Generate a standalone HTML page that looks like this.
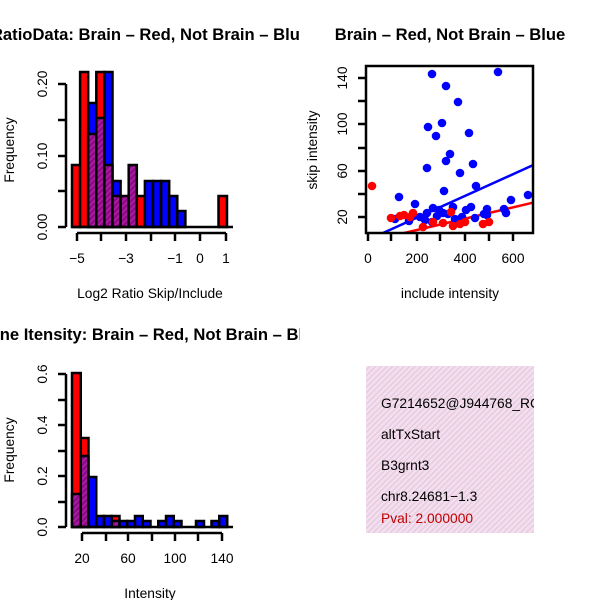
<!DOCTYPE html>
<html><head><style>
html,body{margin:0;padding:0;background:#fff;width:600px;height:600px;overflow:hidden}
svg{display:block}
text{font-family:"Liberation Sans",sans-serif;font-size:13.8px}
.t{font-size:16.6px;font-weight:bold}
</style></head><body>
<svg width="600" height="600" viewBox="0 0 600 600" xmlns="http://www.w3.org/2000/svg">
<defs>
<pattern id="hp" width="4" height="4" patternUnits="userSpaceOnUse" patternTransform="rotate(45)">
<rect width="4" height="4" fill="#8a0a8a"/><rect width="1.5" height="4" fill="#b020a0"/></pattern>
<pattern id="pk" width="4" height="4" patternUnits="userSpaceOnUse" patternTransform="rotate(45)">
<rect width="4" height="4" fill="#f8dcf2"/><rect width="1.3" height="4" fill="#dcd0d8"/></pattern>
<clipPath id="cl"><rect x="0" y="0" width="300" height="600"/></clipPath>
<clipPath id="cb"><rect x="366" y="66" width="167" height="167"/></clipPath>
<clipPath id="ci"><rect x="366" y="366" width="168" height="167"/></clipPath>
</defs>

<g clip-path="url(#cl)">
<text class="t" x="150" y="40" text-anchor="middle">RatioData: Brain – Red, Not Brain – Blue</text>
<text class="t" x="150" y="340" text-anchor="middle">Gene Itensity: Brain – Red, Not Brain – Blue</text>
</g>
<text class="t" x="450" y="40" text-anchor="middle">Brain – Red, Not Brain – Blue</text>

<g stroke="#000" stroke-width="2.5">
<rect x="72" y="165" width="8.1" height="62" fill="#f00"/>
<rect x="80.1" y="72" width="8.1" height="155" fill="#f00"/>
<rect x="88.2" y="103" width="8.1" height="124" fill="#00f"/>
<rect x="88.2" y="134" width="8.1" height="93" fill="url(#hp)"/>
<rect x="96.3" y="72" width="8.1" height="155" fill="#f00"/>
<rect x="96.3" y="118" width="8.1" height="109" fill="url(#hp)"/>
<rect x="104.4" y="72" width="8.1" height="155" fill="#00f"/>
<rect x="104.4" y="165" width="8.1" height="62" fill="url(#hp)"/>
<rect x="112.5" y="181" width="8.1" height="46" fill="#00f"/>
<rect x="112.5" y="196" width="8.1" height="31" fill="url(#hp)"/>
<rect x="120.6" y="196" width="8.1" height="31" fill="url(#hp)"/>
<rect x="128.7" y="165" width="8.1" height="62" fill="url(#hp)"/>
<rect x="136.8" y="196" width="8.1" height="31" fill="#f00"/>
<rect x="144.9" y="181" width="8.1" height="46" fill="#00f"/>
<rect x="153" y="181" width="8.1" height="46" fill="#00f"/>
<rect x="161.1" y="181" width="8.1" height="46" fill="#00f"/>
<rect x="169.2" y="196" width="8.1" height="31" fill="#00f"/>
<rect x="177.3" y="211" width="8.1" height="16" fill="#00f"/>
<rect x="218.5" y="196" width="8.5" height="31" fill="#f00"/>
</g>
<g stroke="#000" stroke-width="2.5" fill="none">
<line x1="72" y1="227" x2="233" y2="227"/>
<line x1="66" y1="84" x2="66" y2="227"/>
<line x1="58" y1="84" x2="66" y2="84"/><line x1="58" y1="120" x2="66" y2="120"/>
<line x1="58" y1="156" x2="66" y2="156"/><line x1="58" y1="191" x2="66" y2="191"/>
<line x1="58" y1="227" x2="66" y2="227"/>
<line x1="77" y1="233" x2="226" y2="233"/>
<line x1="77" y1="233" x2="77" y2="241"/><line x1="101" y1="233" x2="101" y2="241"/>
<line x1="126" y1="233" x2="126" y2="241"/><line x1="151" y1="233" x2="151" y2="241"/>
<line x1="175" y1="233" x2="175" y2="241"/><line x1="200" y1="233" x2="200" y2="241"/>
<line x1="226" y1="233" x2="226" y2="241"/>
</g>
<g text-anchor="middle">
<text transform="translate(47,84) rotate(-90)">0.20</text>
<text transform="translate(47,156) rotate(-90)">0.10</text>
<text transform="translate(47,227) rotate(-90)">0.00</text>
<text x="77" y="263">−5</text><text x="126" y="263">−3</text>
<text x="175" y="263">−1</text><text x="200" y="263">0</text><text x="226" y="263">1</text>
<text x="150" y="298">Log2 Ratio Skip/Include</text>
<text transform="translate(14,150) rotate(-90)">Frequency</text>
</g>

<g clip-path="url(#cb)">
<line x1="383" y1="233" x2="540" y2="162" stroke="#00f" stroke-width="2.5"/>
<line x1="400" y1="234" x2="540" y2="201" stroke="#f00" stroke-width="2.5"/>
<g fill="#00f">
<circle cx="432" cy="74" r="4.3"/><circle cx="498" cy="72" r="4.3"/><circle cx="446" cy="86" r="4.3"/>
<circle cx="458" cy="102" r="4.3"/><circle cx="442" cy="123" r="4.3"/><circle cx="428" cy="127" r="4.3"/>
<circle cx="469" cy="133" r="4.3"/><circle cx="436" cy="136" r="4.3"/><circle cx="450" cy="154" r="4.3"/>
<circle cx="446" cy="161" r="4.3"/><circle cx="473" cy="164" r="4.3"/><circle cx="427" cy="168" r="4.3"/>
<circle cx="460" cy="173" r="4.3"/><circle cx="476" cy="186" r="4.3"/><circle cx="444" cy="191" r="4.3"/>
<circle cx="399" cy="197" r="4.3"/><circle cx="528" cy="195" r="4.3"/><circle cx="511" cy="200" r="4.3"/>
<circle cx="415" cy="204" r="4.3"/><circle cx="506" cy="213" r="4.3"/><circle cx="504" cy="209" r="4.3"/>
<circle cx="453" cy="207" r="4.3"/><circle cx="471" cy="207" r="4.3"/><circle cx="433" cy="208" r="4.3"/>
<circle cx="409" cy="221" r="4.3"/><circle cx="487" cy="209" r="4.3"/><circle cx="475" cy="218" r="4.3"/>
<circle cx="443" cy="213" r="4.3"/><circle cx="420" cy="217" r="4.3"/><circle cx="427" cy="213" r="4.3"/>
<circle cx="437" cy="216" r="4.3"/><circle cx="448" cy="214" r="4.3"/><circle cx="462" cy="217" r="4.3"/>
<circle cx="484" cy="214" r="4.3"/><circle cx="395" cy="219" r="4.3"/><circle cx="432" cy="222" r="4.3"/>
<circle cx="455" cy="219" r="4.3"/><circle cx="466" cy="210" r="4.3"/><circle cx="439" cy="210" r="4.3"/>
<circle cx="413" cy="215" r="4.3"/><circle cx="425" cy="220" r="4.3"/><circle cx="487" cy="215" r="4.3"/>
</g>
<g fill="#f00">
<circle cx="372" cy="186" r="4.3"/><circle cx="391" cy="218" r="4.3"/><circle cx="404" cy="215" r="4.3"/>
<circle cx="413" cy="213" r="4.3"/><circle cx="410" cy="217" r="4.3"/><circle cx="443" cy="223" r="4.3"/>
<circle cx="453" cy="226" r="4.3"/><circle cx="483" cy="224" r="4.3"/><circle cx="489" cy="222" r="4.3"/>
<circle cx="423" cy="227" r="4.3"/><circle cx="460" cy="224" r="4.3"/><circle cx="433" cy="222" r="4.3"/>
<circle cx="451" cy="212" r="4.3"/><circle cx="465" cy="222" r="4.3"/><circle cx="400" cy="216" r="4.3"/>
</g>
</g>
<rect x="366" y="66" width="167" height="167" fill="none" stroke="#000" stroke-width="2.5"/>
<g stroke="#000" stroke-width="2.5">
<line x1="368" y1="233" x2="368" y2="241"/><line x1="391" y1="233" x2="391" y2="241"/>
<line x1="417" y1="233" x2="417" y2="241"/><line x1="440" y1="233" x2="440" y2="241"/>
<line x1="465" y1="233" x2="465" y2="241"/><line x1="489" y1="233" x2="489" y2="241"/>
<line x1="513" y1="233" x2="513" y2="241"/>
<line x1="358" y1="78" x2="366" y2="78"/><line x1="358" y1="101" x2="366" y2="101"/>
<line x1="358" y1="124" x2="366" y2="124"/><line x1="358" y1="148" x2="366" y2="148"/>
<line x1="358" y1="171" x2="366" y2="171"/><line x1="358" y1="194" x2="366" y2="194"/>
<line x1="358" y1="217" x2="366" y2="217"/>
</g>
<g text-anchor="middle">
<text x="368" y="263">0</text><text x="417" y="263">200</text><text x="465" y="263">400</text><text x="513" y="263">600</text>
<text transform="translate(347,78) rotate(-90)">140</text>
<text transform="translate(347,124) rotate(-90)">100</text>
<text transform="translate(347,171) rotate(-90)">60</text>
<text transform="translate(347,217) rotate(-90)">20</text>
<text x="450" y="298">include intensity</text>
<text transform="translate(317,150) rotate(-90)">skip intensity</text>
</g>

<g stroke="#000" stroke-width="2.5">
<rect x="72" y="373" width="8.75" height="154" fill="#f00"/>
<rect x="72" y="494" width="8.75" height="33" fill="url(#hp)"/>
<rect x="80.75" y="438" width="7.75" height="89" fill="#f00"/>
<rect x="80.75" y="456" width="7.75" height="71" fill="url(#hp)"/>
<rect x="88.5" y="477" width="7.75" height="50" fill="#00f"/>
<rect x="96.25" y="516" width="7.75" height="11" fill="#00f"/>
<rect x="104" y="516" width="7.75" height="11" fill="#00f"/>
<rect x="111.75" y="516" width="7.75" height="11" fill="#f00"/>
<rect x="111.75" y="521" width="7.75" height="6" fill="url(#hp)"/>
<rect x="119.5" y="521" width="7.75" height="6" fill="#00f"/>
<rect x="127.25" y="521" width="7.75" height="6" fill="#00f"/>
<rect x="135" y="516" width="7.75" height="11" fill="#00f"/>
<rect x="142.75" y="521" width="7.75" height="6" fill="#00f"/>
<rect x="158.25" y="521" width="7.75" height="6" fill="#00f"/>
<rect x="166" y="516" width="7.75" height="11" fill="#00f"/>
<rect x="173.75" y="521" width="7.75" height="6" fill="#00f"/>
<rect x="196" y="521" width="8" height="6" fill="#00f"/>
<rect x="211.5" y="521" width="7.75" height="6" fill="#00f"/>
<rect x="219.25" y="516" width="8" height="11" fill="#00f"/>
</g>
<g stroke="#000" stroke-width="2.5" fill="none">
<line x1="72" y1="527" x2="233" y2="527"/>
<line x1="66" y1="374" x2="66" y2="527"/>
<line x1="58" y1="374" x2="66" y2="374"/><line x1="58" y1="400" x2="66" y2="400"/>
<line x1="58" y1="425" x2="66" y2="425"/><line x1="58" y1="451" x2="66" y2="451"/>
<line x1="58" y1="476" x2="66" y2="476"/><line x1="58" y1="502" x2="66" y2="502"/>
<line x1="58" y1="527" x2="66" y2="527"/>
<line x1="82" y1="533" x2="222" y2="533"/>
<line x1="82" y1="533" x2="82" y2="541"/><line x1="106" y1="533" x2="106" y2="541"/>
<line x1="128" y1="533" x2="128" y2="541"/><line x1="152" y1="533" x2="152" y2="541"/>
<line x1="175" y1="533" x2="175" y2="541"/><line x1="198" y1="533" x2="198" y2="541"/>
<line x1="222" y1="533" x2="222" y2="541"/>
</g>
<g text-anchor="middle">
<text transform="translate(47,374) rotate(-90)">0.6</text>
<text transform="translate(47,425) rotate(-90)">0.4</text>
<text transform="translate(47,476) rotate(-90)">0.2</text>
<text transform="translate(47,527) rotate(-90)">0.0</text>
<text x="82" y="563">20</text><text x="128" y="563">60</text>
<text x="175" y="563">100</text><text x="222" y="563">140</text>
<text x="150" y="598">Intensity</text>
<text transform="translate(14,450) rotate(-90)">Frequency</text>
</g>

<rect x="366" y="366" width="168" height="167" fill="url(#pk)"/>
<g clip-path="url(#ci)">
<text x="381" y="408">G7214652@J944768_RC</text>
<text x="381" y="439">altTxStart</text>
<text x="381" y="470">B3grnt3</text>
<text x="381" y="501">chr8.24681−1.3</text>
<text x="381" y="523" fill="#c00000">Pval: 2.000000</text>
</g>
</svg>
</body></html>
